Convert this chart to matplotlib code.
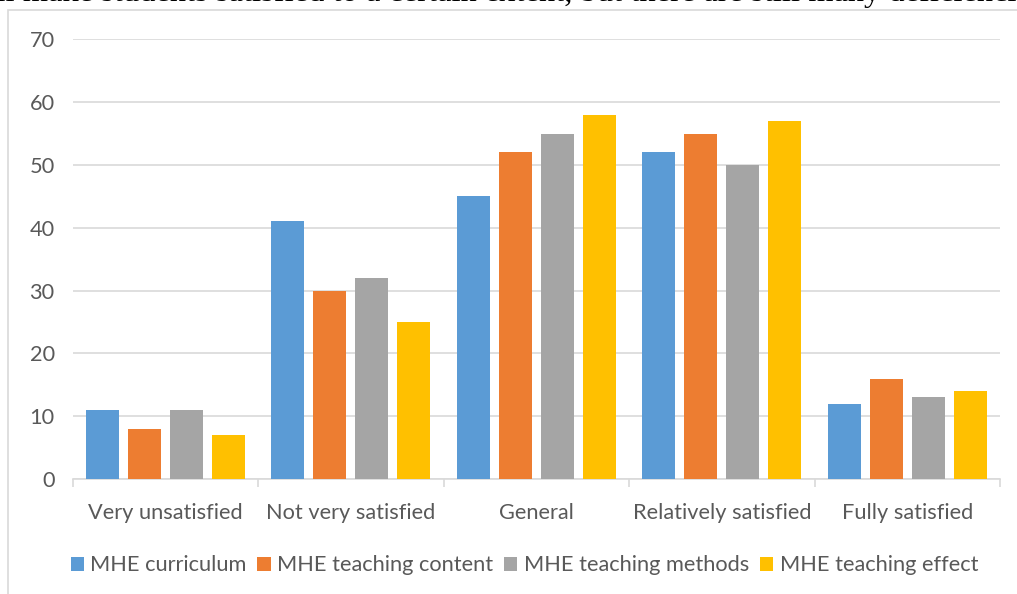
import matplotlib.pyplot as plt
from matplotlib.patches import Rectangle
import numpy as np

# Data
categories = ["Very unsatisfied", "Not very satisfied", "General",
              "Relatively satisfied", "Fully satisfied"]
series_names = ["MHE curriculum", "MHE teaching content",
                "MHE teaching methods", "MHE teaching effect"]
curriculum = [11, 41, 45, 52, 12]
content = [8, 30, 52, 55, 16]
methods = [11, 32, 55, 50, 13]
effect = [7, 25, 58, 57, 14]
yticks = [0, 10, 20, 30, 40, 50, 60, 70]

colors = ['#5B9BD5', '#ED7D31', '#A5A5A5', '#FFC000']
txt_color = '#595959'
grid_color = '#D9D9D9'

plt.rcParams['font.family'] = ['Lato', 'DejaVu Sans']

fig = plt.figure(figsize=(10.17, 5.94), dpi=100)
ax = fig.add_axes([0.0715, 0.1936, 0.9118, 0.7402])

# clipped sentence from the page above the chart
fig.text(-18 / 1017, 1 - 1.5 / 594, "all make students satisfied to a certain extent, "
         "but there are still many deficiencies",
         family='Liberation Serif', fontsize=23.4, color='black',
         ha='left', va='baseline')

# chart frame
fig.patches.append(Rectangle((8 / 1017, -0.1), 1.1, 1 - 10 / 594 + 0.1,
                             transform=fig.transFigure, fill=False,
                             edgecolor=grid_color, linewidth=1.2))

x = np.arange(len(categories))
step = 0.2265
width = 0.178
for i, (vals, name) in enumerate(zip([curriculum, content, methods, effect], series_names)):
    ax.bar(x + (i - 1.5) * step, vals, width, color=colors[i], label=name, zorder=3)

ax.set_xlim(-0.5, len(categories) - 0.5)
ax.set_ylim(0, 70)
ax.set_yticks(yticks)
ax.yaxis.grid(True, color=grid_color, linewidth=1.2, zorder=0)

for s in ['top', 'right', 'left']:
    ax.spines[s].set_visible(False)
ax.spines['bottom'].set_color(grid_color)
ax.spines['bottom'].set_linewidth(1.2)

# category labels with boundary ticks
ax.set_xticks(x)
ax.set_xticklabels(categories)
ax.tick_params(axis='x', length=0, pad=17, labelsize=15.7, labelcolor=txt_color)
ax.set_xticks(np.arange(-0.5, len(categories)), minor=True)
ax.tick_params(axis='x', which='minor', length=6, color=grid_color, width=1.2)
ax.tick_params(axis='y', length=0, pad=13, labelsize=15.7, labelcolor=txt_color)

ax.legend(loc='upper center', bbox_to_anchor=(0.487, -0.129), ncol=4, frameon=False,
          fontsize=15.7, labelcolor=txt_color, handlelength=0.6, handleheight=0.6,
          handletextpad=0.3, columnspacing=0.5)

fig.savefig("out.png", dpi=100)
